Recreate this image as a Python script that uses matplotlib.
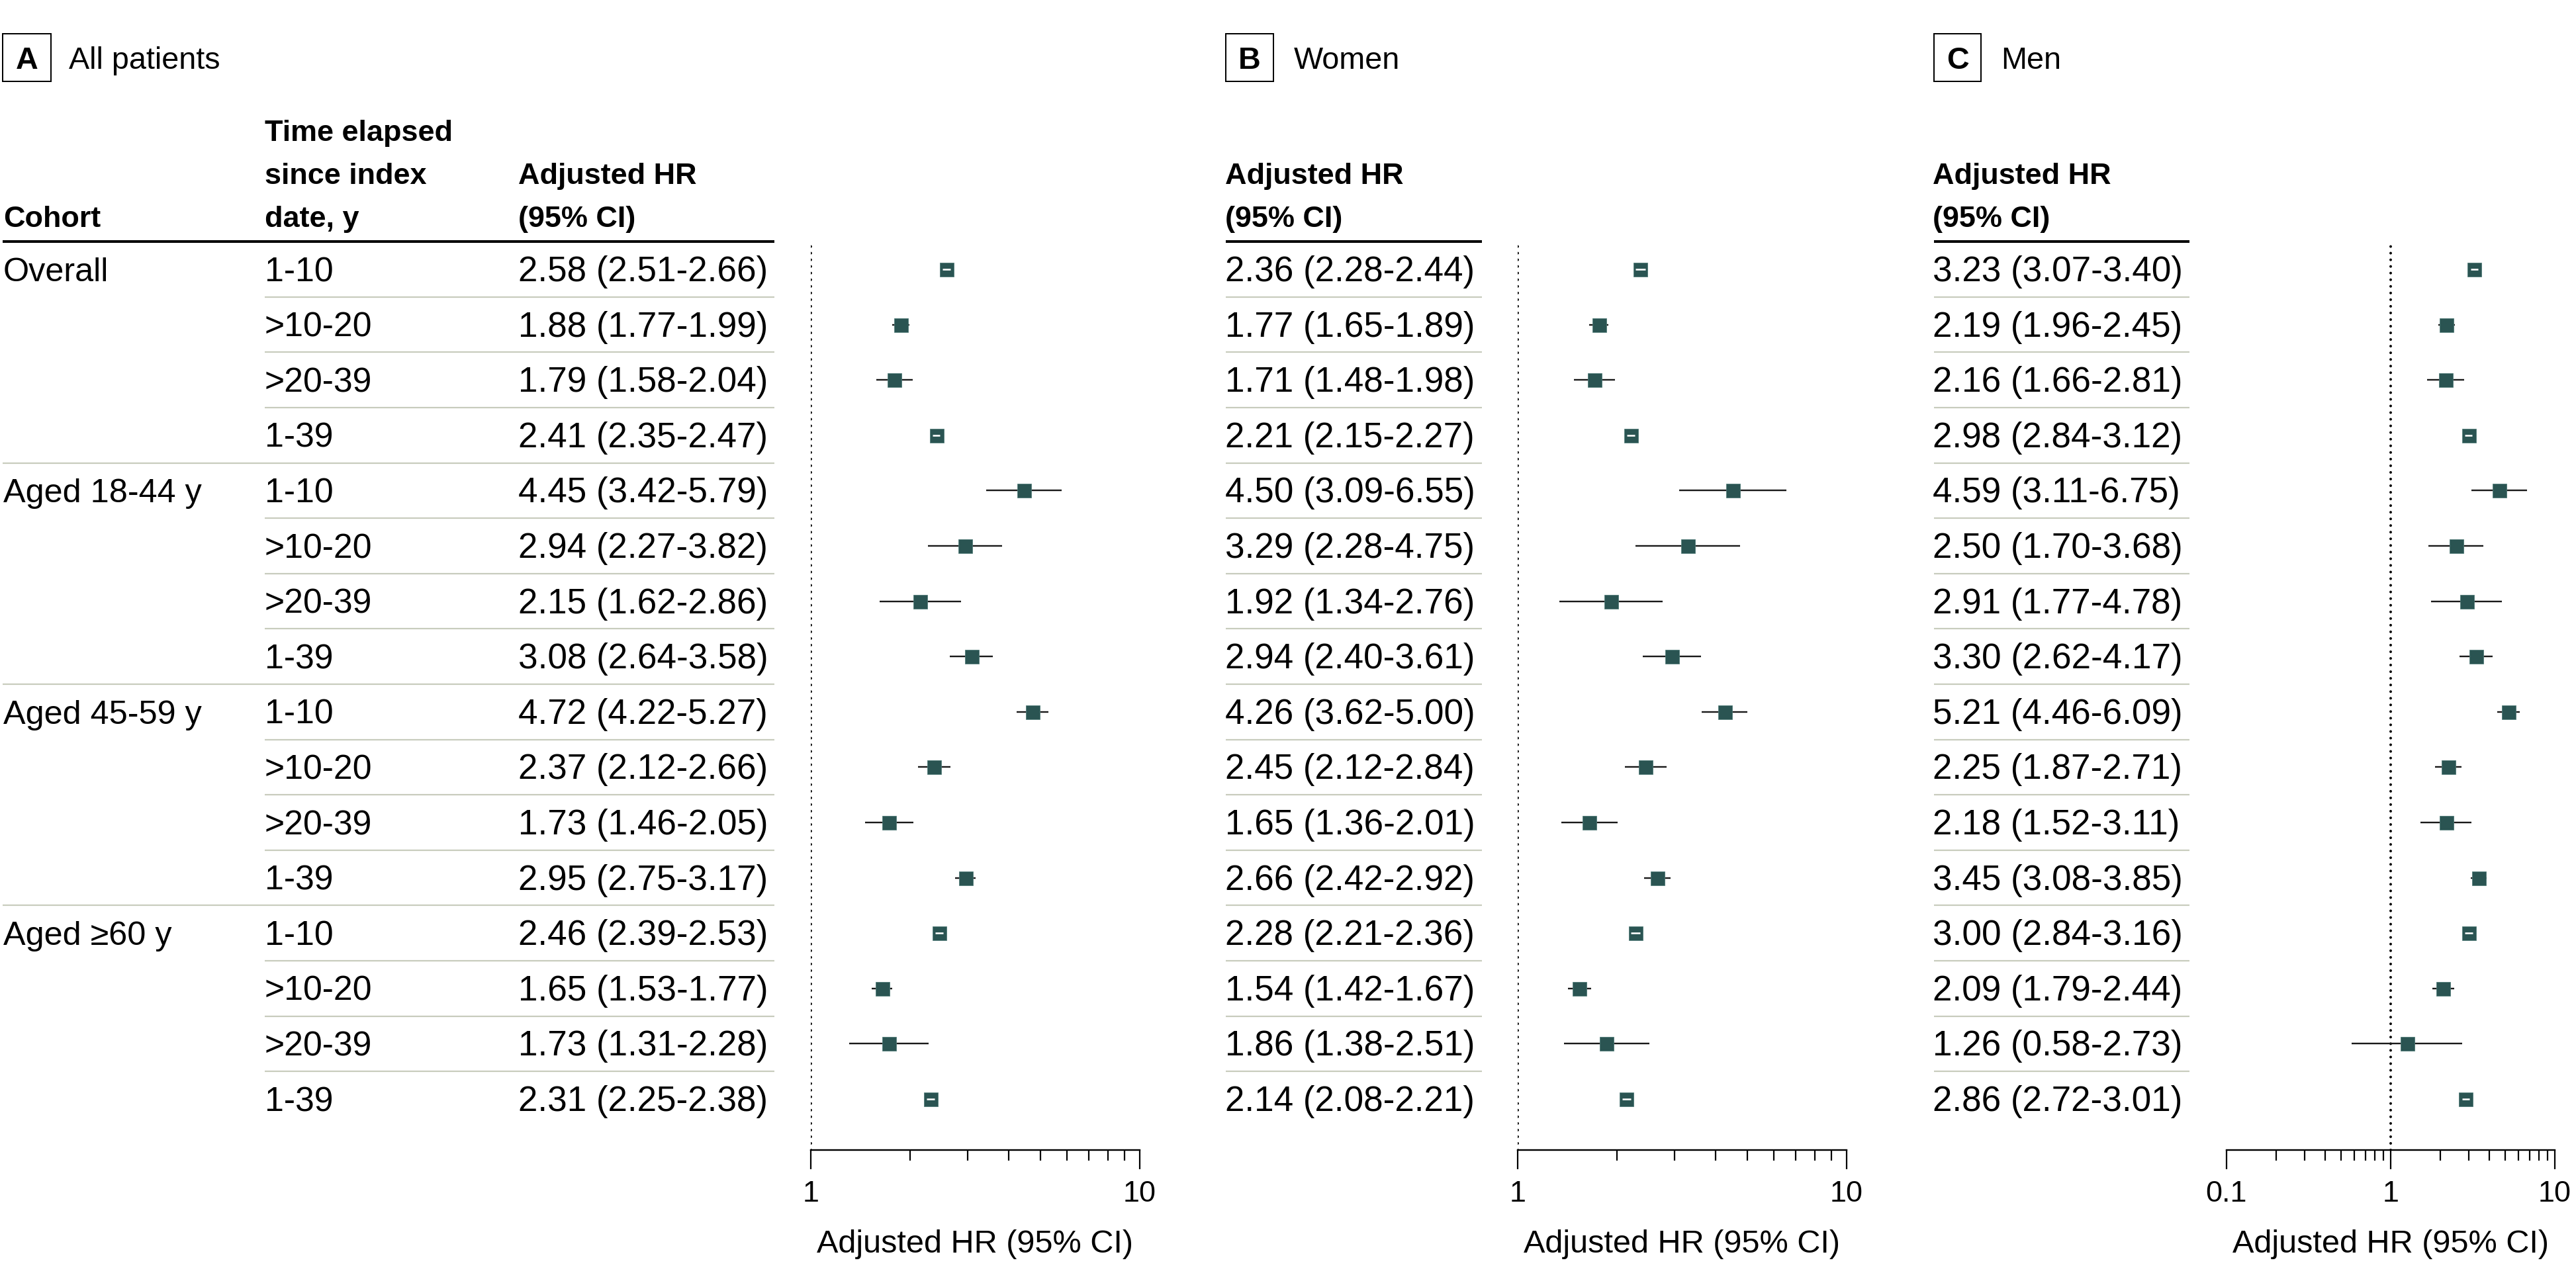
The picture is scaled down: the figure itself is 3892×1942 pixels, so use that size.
import numpy as np
import matplotlib
matplotlib.use("Agg")
import matplotlib.pyplot as plt
from matplotlib.patches import Rectangle
from matplotlib.ticker import FixedLocator, FixedFormatter, NullFormatter

plt.rcParams['font.family'] = ['Liberation Sans', 'DejaVu Sans']

# ---------------- data ----------------
cohorts = ["Overall", "Aged 18-44 y", "Aged 45-59 y", "Aged \u226560 y"]
periods = ["1-10", ">10-20", ">20-39", "1-39"]
panel_letters = ["A", "B", "C"]
panel_titles = ["All patients", "Women", "Men"]

all_hr = [2.58, 1.88, 1.79, 2.41, 4.45, 2.94, 2.15, 3.08, 4.72, 2.37, 1.73, 2.95, 2.46, 1.65, 1.73, 2.31]
all_lo = [2.51, 1.77, 1.58, 2.35, 3.42, 2.27, 1.62, 2.64, 4.22, 2.12, 1.46, 2.75, 2.39, 1.53, 1.31, 2.25]
all_hi = [2.66, 1.99, 2.04, 2.47, 5.79, 3.82, 2.86, 3.58, 5.27, 2.66, 2.05, 3.17, 2.53, 1.77, 2.28, 2.38]

women_hr = [2.36, 1.77, 1.71, 2.21, 4.50, 3.29, 1.92, 2.94, 4.26, 2.45, 1.65, 2.66, 2.28, 1.54, 1.86, 2.14]
women_lo = [2.28, 1.65, 1.48, 2.15, 3.09, 2.28, 1.34, 2.40, 3.62, 2.12, 1.36, 2.42, 2.21, 1.42, 1.38, 2.08]
women_hi = [2.44, 1.89, 1.98, 2.27, 6.55, 4.75, 2.76, 3.61, 5.00, 2.84, 2.01, 2.92, 2.36, 1.67, 2.51, 2.21]

men_hr = [3.23, 2.19, 2.16, 2.98, 4.59, 2.50, 2.91, 3.30, 5.21, 2.25, 2.18, 3.45, 3.00, 2.09, 1.26, 2.86]
men_lo = [3.07, 1.96, 1.66, 2.84, 3.11, 1.70, 1.77, 2.62, 4.46, 1.87, 1.52, 3.08, 2.84, 1.79, 0.58, 2.72]
men_hi = [3.40, 2.45, 2.81, 3.12, 6.75, 3.68, 4.78, 4.17, 6.09, 2.71, 3.11, 3.85, 3.16, 2.44, 2.73, 3.01]

major_ticks = [[1, 10], [1, 10], [0.1, 1, 10]]
major_labels = [["1", "10"], ["1", "10"], ["0.1", "1", "10"]]
xlims = [(1, 10), (1, 10), (0.1, 10)]
xlabel = "Adjusted HR (95% CI)"

# ---------------- layout (pixels) ----------------
W, H = 3892, 1942
DPI = 100
fig = plt.figure(figsize=(W / DPI, H / DPI), dpi=DPI)
renderer = fig.canvas.get_renderer()


def fit_size(s, target_px, weight="normal", base=30.0):
    t = fig.text(0, 0, s, fontsize=base, fontweight=weight)
    w = t.get_window_extent(renderer=renderer).width
    t.remove()
    return base * target_px / w


# font sizes fitted to the text widths measured on the reference
fs_val = fit_size("2.58 (2.51-2.66)", 378)
fs_lab = fit_size("Aged 18-44 y", 300)
fs_per = 0.5 * (fs_val + fs_lab)
fs_head = fit_size("Adjusted HR", 270, "bold")
fs_title = fit_size("Women", 160)
fs_xlab = fit_size(xlabel, 478)
fs_tick = fit_size("10", 50)

bg = fig.add_axes([0, 0, 1, 1])
bg.set_xlim(0, W)
bg.set_ylim(H, 0)
bg.axis("off")

PX = 72.0 / DPI  # points per pixel
row0 = 407.0
row_h = 83.6
n_rows = len(all_hr)
header_y = 365.0
axis_y = 1738.0

TEAL = "#2a5452"
TEAL_EDGE = "#4f7a77"
SEP = "#c8ccbd"

panels = [
    dict(tl=4, tr=1170, vx=783, ax0=1225, ax1=1722, bx0=4, bx1=77, tx=104),
    dict(tl=1852, tr=2239, vx=1851, ax0=2293, ax1=2790, bx0=1852, bx1=1924, tx=1955),
    dict(tl=2922, tr=3308, vx=2920, ax0=3364, ax1=3860, bx0=2922, bx1=2993, tx=3023),
]
series = [(all_hr, all_lo, all_hi), (women_hr, women_lo, women_hi), (men_hr, men_lo, men_hi)]

time_x = 400
cohort_x = 5

bg.text(cohort_x, 343, "Cohort", fontsize=fs_head, fontweight="bold", va="baseline", ha="left")
for yb, s in zip([213, 278, 343], ["Time elapsed", "since index", "date, y"]):
    bg.text(time_x, yb, s, fontsize=fs_head, fontweight="bold", va="baseline", ha="left")

for p_i, (p, (hr, lo, hi)) in enumerate(zip(panels, series)):
    bg.add_patch(Rectangle((p["bx0"], 51), p["bx1"] - p["bx0"], 72, fill=False,
                           edgecolor="black", linewidth=2 * PX))
    bg.text((p["bx0"] + p["bx1"]) / 2, 104, panel_letters[p_i], fontsize=fs_title,
            fontweight="bold", ha="center", va="baseline")
    bg.text(p["tx"], 104, panel_titles[p_i], fontsize=fs_title, ha="left", va="baseline")

    bg.text(p["vx"], 278, "Adjusted HR", fontsize=fs_head, fontweight="bold", va="baseline")
    bg.text(p["vx"], 343, "(95% CI)", fontsize=fs_head, fontweight="bold", va="baseline")

    bg.plot([p["tl"], p["tr"]], [header_y, header_y], color="black", lw=4 * PX,
            solid_capstyle="butt")

    for i in range(n_rows):
        yc = row0 + row_h * i
        yb = yc + 18
        bg.text(p["vx"], yb, f"{hr[i]:.2f} ({lo[i]:.2f}-{hi[i]:.2f})", fontsize=fs_val,
                va="baseline", ha="left")
        if p_i == 0:
            if i % len(periods) == 0:
                bg.text(cohort_x, yb, cohorts[i // len(periods)], fontsize=fs_lab,
                        va="baseline", ha="left")
            bg.text(time_x, yb, periods[i % len(periods)], fontsize=fs_per,
                    va="baseline", ha="left")
        if i < n_rows - 1:
            ys = yc + row_h / 2
            x_start = p["tl"]
            if p_i == 0 and (i + 1) % len(periods) != 0:
                x_start = time_x
            bg.plot([x_start, p["tr"]], [ys, ys], color=SEP, lw=2.2 * PX,
                    solid_capstyle="butt")

    ax = fig.add_axes([p["ax0"] / W, 1 - axis_y / H, (p["ax1"] - p["ax0"]) / W,
                       (axis_y - header_y) / H])
    ax.set_xscale("log")
    ax.set_xlim(*xlims[p_i])
    top = (header_y - row0) / row_h
    bottom = (axis_y - row0) / row_h
    ax.set_ylim(bottom, top)
    ax.patch.set_alpha(0)
    for s in ["top", "left", "right"]:
        ax.spines[s].set_visible(False)
    ax.spines["bottom"].set_linewidth(2.4 * PX)
    ax.set_yticks([])

    ax.xaxis.set_major_locator(FixedLocator(major_ticks[p_i]))
    ax.xaxis.set_major_formatter(FixedFormatter(major_labels[p_i]))
    lo_dec = int(np.floor(np.log10(xlims[p_i][0])))
    hi_dec = int(np.ceil(np.log10(xlims[p_i][1])))
    minors = [m * 10.0 ** d for d in range(lo_dec, hi_dec) for m in range(2, 10)]
    ax.xaxis.set_minor_locator(FixedLocator(minors))
    ax.xaxis.set_minor_formatter(NullFormatter())
    ax.tick_params(axis="x", which="major", length=29 * PX, width=2.2 * PX,
                   labelsize=fs_tick, pad=12, direction="out")
    ax.tick_params(axis="x", which="minor", length=16 * PX, width=2.2 * PX, direction="out")

    ax.set_xlabel(xlabel, fontsize=fs_xlab)
    ax.xaxis.label.set_va("baseline")
    ax.xaxis.set_label_coords(0.5, -(1893 - axis_y) / (axis_y - header_y))

    ax.axvline(1, color="black", lw=4.0 * PX, linestyle=(0, (0.01, 2.5)),
               dash_capstyle="round", zorder=1)

    y = np.arange(n_rows)
    hr_a, lo_a, hi_a = np.array(hr), np.array(lo), np.array(hi)
    ax.hlines(y, lo_a, hi_a, color="#1a1a1a", lw=2.4 * PX, zorder=2)
    ms_px = 21
    ax.plot(hr_a, y, "s", ms=ms_px * PX, mfc=TEAL, mec=TEAL_EDGE, mew=0.8 * PX,
            ls="none", zorder=3)
    dec_px = (p["ax1"] - p["ax0"]) / np.log10(xlims[p_i][1] / xlims[p_i][0])
    half = (ms_px / 2) / dec_px
    inside = (np.log10(hr_a) - np.log10(lo_a) < half) & (np.log10(hi_a) - np.log10(hr_a) < half)
    ax.hlines(y[inside], lo_a[inside], hi_a[inside], color="white", lw=2.6 * PX, zorder=4)

fig.savefig("out.png", dpi=DPI)
